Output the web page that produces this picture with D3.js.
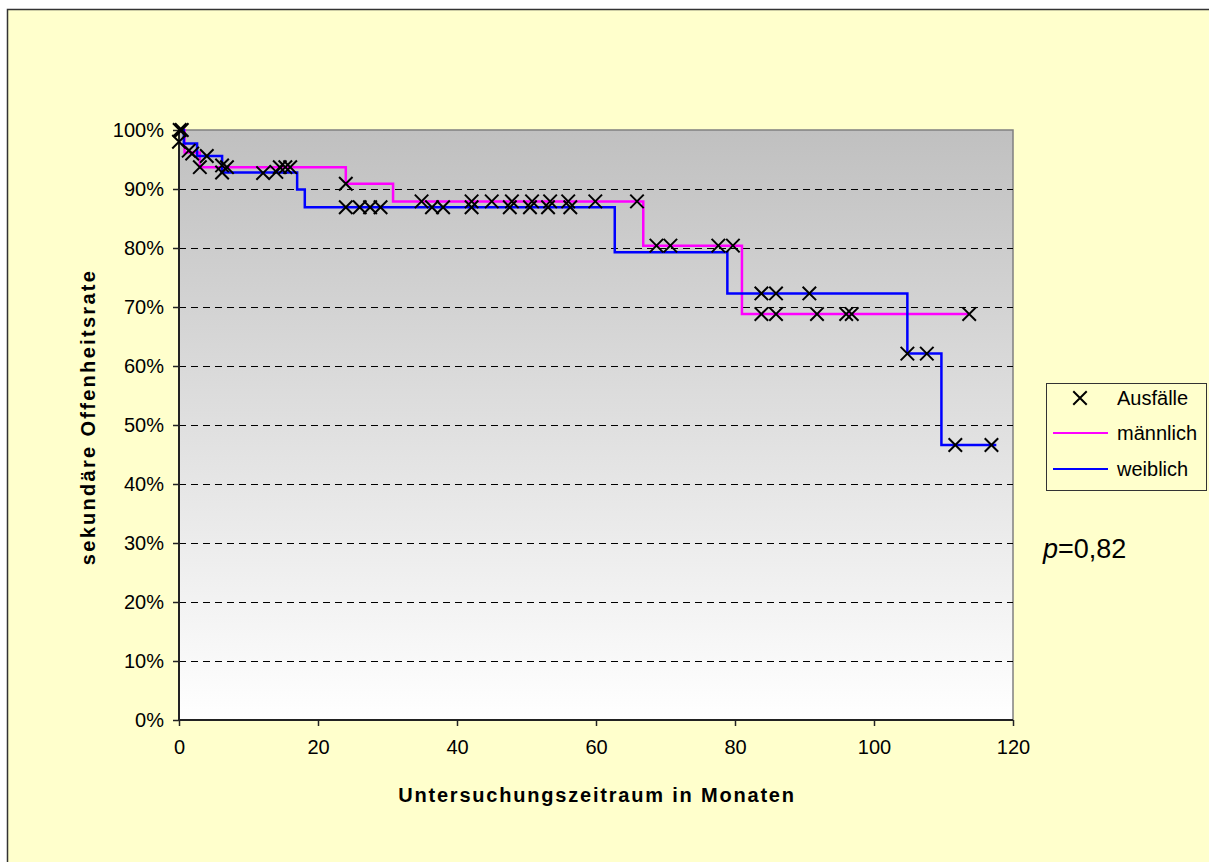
<!DOCTYPE html>
<html>
<head>
<meta charset="utf-8">
<script src="https://cdn.jsdelivr.net/npm/d3@7"></script>
<style>
  html, body { margin: 0; padding: 0; background: #ffffff; }
  svg { display: block; font-family: "Liberation Sans", Arial, sans-serif; }
</style>
</head>
<body>
<svg id="chart" width="1209" height="862"></svg>
<script>
// ---- data ----
const maleTimes   = [0, 0.8, 3.0, 24.0, 30.8, 66.8, 81.0, 113.7];
const maleRates   = [100, 96.2, 93.7, 90.9, 87.9, 80.4, 68.8, 68.8];
const femaleTimes = [0, 0.7, 2.6, 6.2, 17.0, 18.1, 62.7, 78.9, 104.8, 109.7, 117.6];
const femaleRates = [100, 97.7, 95.6, 92.8, 89.9, 86.9, 79.3, 72.3, 62.1, 46.6, 46.6];

const censorTimes = [0.1, 0.4, 0, 1.4, 1.9, 3.0, 4.0, 6.2, 6.9, 6.2, 12.1, 14.0, 14.5, 15.3, 16.0,
  24.0, 24.0, 26.0, 27.5, 29.0,
  34.9, 36.4, 38.0, 42.1, 42.1, 45.0, 47.6, 47.9, 50.5, 50.8, 53.1, 53.4, 56.0, 56.3, 59.9, 65.9,
  68.7, 70.7, 77.6, 79.7,
  83.8, 85.9, 90.7, 83.8, 85.9, 91.8, 96.0, 96.8, 113.7,
  104.8, 107.6, 111.7, 116.9];
const censorRates = [100, 100, 98, 96.5, 96, 93.7, 95.6, 94, 93.7, 92.8, 92.7, 92.9, 93.7, 93.7, 93.7,
  90.9, 86.9, 86.9, 86.9, 86.9,
  87.9, 86.9, 86.9, 87.9, 86.9, 87.9, 86.9, 87.9, 86.9, 87.9, 86.9, 87.9, 87.9, 86.9, 87.9, 87.9,
  80.4, 80.4, 80.4, 80.4,
  72.3, 72.3, 72.3, 68.8, 68.8, 68.8, 68.8, 68.8, 68.8,
  62.1, 62.1, 46.6, 46.6];

const xTicks = [0, 20, 40, 60, 80, 100, 120];
const yTicks = [0, 10, 20, 30, 40, 50, 60, 70, 80, 90, 100];
const legendLabels = ["Ausfälle", "männlich", "weiblich"];
const xTitle = "Untersuchungszeitraum in Monaten";
const yTitle = "sekundäre Offenheitsrate";
const pText = "=0,82";

// ---- layout ----
const svg = d3.select("#chart");
const plot = { left: 179, top: 130, right: 1013, bottom: 720 };

const x = d3.scaleLinear().domain([0, 120]).range([plot.left, plot.right]);
const y = d3.scaleLinear().domain([0, 100]).range([plot.bottom, plot.top]);

// chart area
svg.append("rect").attr("x", 7.5).attr("y", 9.5).attr("width", 1230).attr("height", 900)
  .attr("fill", "#ffffcc").attr("stroke", "#333333").attr("stroke-width", 1.5);

// gradient plot background
const defs = svg.append("defs");
const grad = defs.append("linearGradient").attr("id", "bg").attr("x1", 0).attr("y1", 0).attr("x2", 0).attr("y2", 1);
grad.append("stop").attr("offset", "0%").attr("stop-color", "#c0c0c0");
grad.append("stop").attr("offset", "100%").attr("stop-color", "#ffffff");

svg.append("rect").attr("x", plot.left).attr("y", plot.top)
  .attr("width", plot.right - plot.left).attr("height", plot.bottom - plot.top)
  .attr("fill", "url(#bg)").attr("stroke", "#808080").attr("stroke-width", 1.5);

// gridlines
svg.append("g").selectAll("line").data(yTicks.filter(d => d > 0 && d < 100)).join("line")
  .attr("x1", plot.left).attr("x2", plot.right)
  .attr("y1", d => Math.round(y(d)) + 0.5).attr("y2", d => Math.round(y(d)) + 0.5)
  .attr("stroke", "#000").attr("stroke-width", 1).attr("stroke-dasharray", "7,5");

// axes
const yAxis = d3.axisLeft(y).tickValues(yTicks).tickFormat(d => d + "%").tickSize(6).tickPadding(9);
const gy = svg.append("g").attr("transform", `translate(${plot.left},0)`).call(yAxis);
const xAxis = d3.axisBottom(x).tickValues(xTicks).tickFormat(d3.format("d")).tickSize(6).tickPadding(14);
const gx = svg.append("g").attr("transform", `translate(0,${plot.bottom})`).call(xAxis);
[gx, gy].forEach(g => {
  g.select(".domain").attr("stroke", "#222").attr("stroke-width", 2);
  g.selectAll(".tick line").attr("stroke", "#222").attr("stroke-width", 1.5);
  g.selectAll(".tick text").attr("fill", "#000").style("font-size", "20px")
    .style("font-family", "'Liberation Sans', Arial, sans-serif");
});
gy.select(".domain").attr("d", `M0,${plot.top}V${plot.bottom}`);
gx.select(".domain").attr("d", `M${plot.left},0H${plot.right}`);

// step lines
const line = d3.line().x(d => x(d[0])).y(d => y(d[1])).curve(d3.curveStepAfter);
svg.append("path").datum(d3.zip(maleTimes, maleRates)).attr("d", line)
  .attr("fill", "none").attr("stroke", "#ff00ff").attr("stroke-width", 2.5);
svg.append("path").datum(d3.zip(femaleTimes, femaleRates)).attr("d", line)
  .attr("fill", "none").attr("stroke", "#0000ff").attr("stroke-width", 2.5);

// censor marks
const cross = d3.symbol().type(d3.symbolX).size(120);
svg.append("g").selectAll("path").data(d3.zip(censorTimes, censorRates)).join("path")
  .attr("transform", d => `translate(${x(d[0])},${y(d[1])})`)
  .attr("d", cross).attr("fill", "none").attr("stroke", "#000").attr("stroke-width", 2);

// axis titles
svg.append("text").attr("x", (plot.left + plot.right) / 2 + 1).attr("y", 802)
  .attr("text-anchor", "middle").style("font-size", "20px").style("font-weight", "bold")
  .style("letter-spacing", "1.8px").text(xTitle);
svg.append("text").attr("transform", `translate(95,${(plot.top + plot.bottom) / 2 - 8}) rotate(-90)`)
  .attr("text-anchor", "middle").style("font-size", "20px").style("font-weight", "bold")
  .style("letter-spacing", "2.3px").text(yTitle);

// legend
const lg = svg.append("g");
lg.append("rect").attr("x", 1046.5).attr("y", 383.5).attr("width", 160).attr("height", 107)
  .attr("fill", "none").attr("stroke", "#333").attr("stroke-width", 1);
const legendY = [398, 433, 469];
lg.append("path").attr("transform", `translate(1080,${legendY[0]})`).attr("d", cross)
  .attr("fill", "none").attr("stroke", "#000").attr("stroke-width", 2);
lg.append("line").attr("x1", 1053).attr("x2", 1108).attr("y1", legendY[1]).attr("y2", legendY[1])
  .attr("stroke", "#ff00ff").attr("stroke-width", 2);
lg.append("line").attr("x1", 1053).attr("x2", 1108).attr("y1", legendY[2]).attr("y2", legendY[2])
  .attr("stroke", "#0000ff").attr("stroke-width", 2);
lg.selectAll("text.lbl").data(legendLabels).join("text").attr("class", "lbl")
  .attr("x", 1117).attr("y", (d, i) => legendY[i] + 7).style("font-size", "20px").text(d => d);

// p value
const pt = svg.append("text").attr("x", 1043).attr("y", 558).style("font-size", "27px");
pt.append("tspan").style("font-style", "italic").text("p");
pt.append("tspan").text(pText);
</script>
</body>
</html>
